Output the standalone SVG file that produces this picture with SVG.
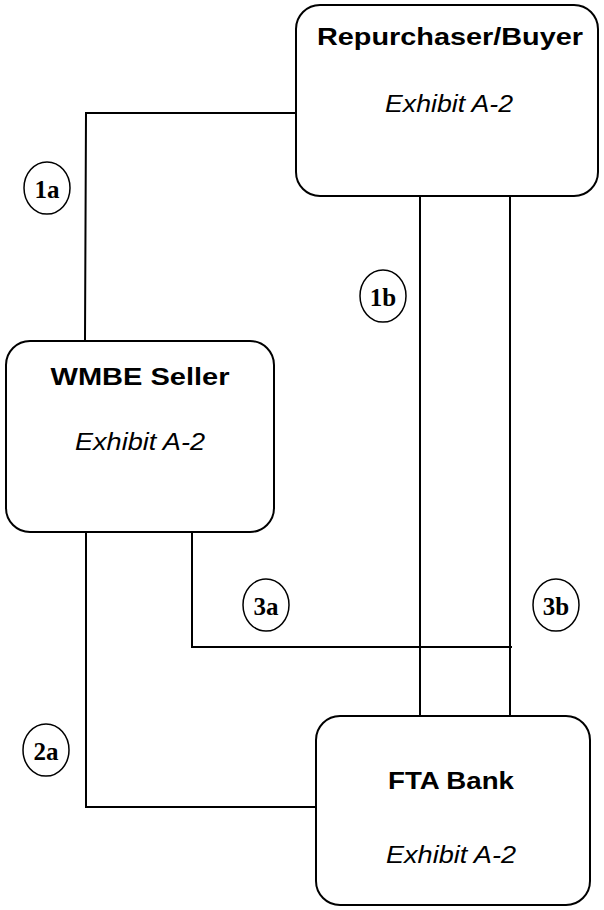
<svg xmlns="http://www.w3.org/2000/svg" width="604" height="910" viewBox="0 0 604 910">
<style>
.box{fill:#fff;stroke:#000;stroke-width:2}
.ln{fill:none;stroke:#000;stroke-width:2}
.cir{fill:#fff;stroke:#000;stroke-width:1.5}
.t{font-family:"Liberation Sans",Arial,sans-serif;font-weight:bold;font-size:24px;text-anchor:middle;fill:#000}
.e{font-family:"Liberation Sans",Arial,sans-serif;font-style:italic;font-size:24px;text-anchor:middle;fill:#000}
.c{font-family:"Liberation Serif","Times New Roman",serif;font-weight:bold;font-size:25px;text-anchor:middle;fill:#000}
</style>
<rect width="604" height="910" fill="#fff"/>
<g id="connectors">
<polyline class="ln" points="296,113 86,113 85,341"/>
<line class="ln" x1="420" y1="196" x2="420" y2="716"/>
<line class="ln" x1="510" y1="196" x2="510" y2="716"/>
<polyline class="ln" points="192,532 192,647 512,647"/>
<polyline class="ln" points="86,532 86,807 316,807"/>
</g>
<g id="repurchaser">
<rect class="box" x="296" y="5" width="302" height="191" rx="24" ry="24"/>
<text class="t" x="450" y="45" textLength="266" lengthAdjust="spacingAndGlyphs">Repurchaser/Buyer</text>
<text class="e" x="449" y="112" textLength="128" lengthAdjust="spacingAndGlyphs">Exhibit A-2</text>
</g>
<g id="wmbe">
<rect class="box" x="6" y="341" width="268" height="191" rx="24" ry="24"/>
<text class="t" x="140" y="385" textLength="179" lengthAdjust="spacingAndGlyphs">WMBE Seller</text>
<text class="e" x="140" y="450" textLength="130" lengthAdjust="spacingAndGlyphs">Exhibit A-2</text>
</g>
<g id="fta">
<rect class="box" x="316" y="716" width="274" height="189" rx="24" ry="24"/>
<text class="t" x="451" y="789" textLength="126" lengthAdjust="spacingAndGlyphs">FTA Bank</text>
<text class="e" x="451" y="863" textLength="130" lengthAdjust="spacingAndGlyphs">Exhibit A-2</text>
</g>
<g id="label-1a"><ellipse class="cir" cx="47" cy="188" rx="23" ry="26"/><text class="c" x="47" y="198">1a</text></g>
<g id="label-1b"><ellipse class="cir" cx="383" cy="296" rx="23" ry="26"/><text class="c" x="383" y="306">1b</text></g>
<g id="label-3a"><ellipse class="cir" cx="266" cy="605" rx="23" ry="26"/><text class="c" x="266" y="615">3a</text></g>
<g id="label-3b"><ellipse class="cir" cx="556" cy="605" rx="23" ry="26"/><text class="c" x="556" y="615">3b</text></g>
<g id="label-2a"><ellipse class="cir" cx="46" cy="750" rx="23" ry="26"/><text class="c" x="46" y="760">2a</text></g>
</svg>
